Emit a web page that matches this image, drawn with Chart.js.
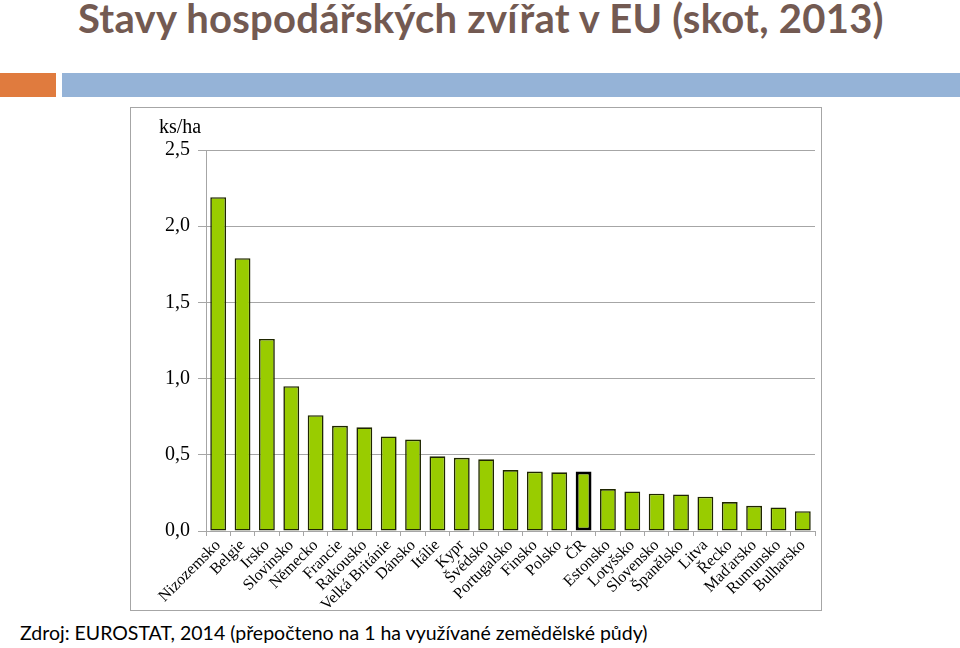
<!DOCTYPE html>
<html>
<head>
<meta charset="utf-8">
<script src="https://cdn.jsdelivr.net/npm/chart.js@4.4.0/dist/chart.umd.min.js"></script>
<style>
  body { margin: 0; width: 960px; height: 648px; background: #fff; position: relative; overflow: hidden; }
  #title { position: absolute; left: 78px; top: -6px; font: bold 40px Lato, sans-serif; letter-spacing: 0.25px; color: #735a52; white-space: nowrap; }
  #orange { position: absolute; left: 0; top: 73px; width: 56px; height: 24px; background: #e07b3e; }
  #blue { position: absolute; left: 62px; top: 73px; width: 898px; height: 24px; background: #95b3d7; }
  #box { position: absolute; left: 130px; top: 107px; width: 690px; height: 502px; border: 1px solid #a6a6a6; }
  #source { position: absolute; left: 20px; top: 621px; font: 19.5px Lato, sans-serif; color: #000; white-space: nowrap; }
</style>
</head>
<body>
<div id="title">Stavy hospodářských zvířat v EU (skot, 2013)</div>
<div id="orange"></div>
<div id="blue"></div>
<div id="box"><canvas id="c" width="690" height="502"></canvas></div>
<div id="source">Zdroj: EUROSTAT, 2014 (přepočteno na 1 ha využívané zemědělské půdy)</div>
<script>
// kusy skotu na 1 ha využívané zemědělské půdy
const countries = ['Nizozemsko', 'Belgie', 'Irsko', 'Slovinsko', 'Německo', 'Francie', 'Rakousko',
    'Velká Británie', 'Dánsko', 'Itálie', 'Kypr', 'Švédsko', 'Portugalsko', 'Finsko', 'Polsko', 'ČR',
    'Estonsko', 'Lotyšsko', 'Slovensko', 'Španělsko', 'Litva', 'Řecko', 'Maďarsko', 'Rumunsko', 'Bulharsko'];
const values = [2.19, 1.79, 1.26, 0.95, 0.76, 0.69, 0.68, 0.62, 0.60, 0.49, 0.48, 0.47, 0.40, 0.39,
    0.385, 0.39, 0.275, 0.26, 0.245, 0.24, 0.225, 0.19, 0.165, 0.155, 0.13];
const highlight = 'ČR';
const yTicks = [0, 0.5, 1.0, 1.5, 2.0, 2.5];

const unitLabel = {
    id: 'unitLabel',
    afterDraw(chart) {
        const ctx = chart.ctx;
        ctx.save();
        ctx.font = '20px "Liberation Serif", serif';
        ctx.fillStyle = '#000';
        ctx.textAlign = 'center';
        ctx.textBaseline = 'middle';
        ctx.fillText('ks/ha', 49, 20);
        ctx.restore();
    }
};

new Chart(document.getElementById('c').getContext('2d'), {
    type: 'bar',
    data: {
        labels: countries,
        datasets: [{
            data: values,
            backgroundColor: '#99cc00',
            borderColor: countries.map(c => c === highlight ? '#000' : '#1f2600'),
            borderWidth: countries.map(c => c === highlight ? 3 : 1.6),
            borderSkipped: false,
            categoryPercentage: 1,
            barPercentage: 0.65
        }]
    },
    options: {
        responsive: false,
        animation: false,
        devicePixelRatio: 1,
        layout: { padding: { top: 42, right: 6, left: 0, bottom: 0 } },
        plugins: { legend: { display: false }, tooltip: { enabled: false } },
        scales: {
            x: {
                afterFit(scale) { scale.height = 79; },
                grid: { offset: true, drawOnChartArea: false, tickLength: 5, color: '#a6a6a6' },
                border: { color: '#a6a6a6', width: 1 },
                ticks: {
                    autoSkip: false,
                    minRotation: 45,
                    maxRotation: 45,
                    padding: 0,
                    color: '#000',
                    font: { family: '"Liberation Serif", serif', size: 16 }
                }
            },
            y: {
                min: 0,
                max: 2.5,
                afterFit(scale) { scale.width = 75; },
                afterBuildTicks(scale) { scale.ticks = yTicks.map(v => ({ value: v })); },
                grid: { color: '#a6a6a6', tickLength: 8 },
                border: { color: '#a6a6a6', width: 1 },
                ticks: {
                    padding: 8,
                    color: '#000',
                    font: { family: '"Liberation Serif", serif', size: 20 },
                    callback: v => v.toFixed(1).replace('.', ',')
                }
            }
        }
    },
    plugins: [unitLabel]
});
</script>
</body>
</html>
